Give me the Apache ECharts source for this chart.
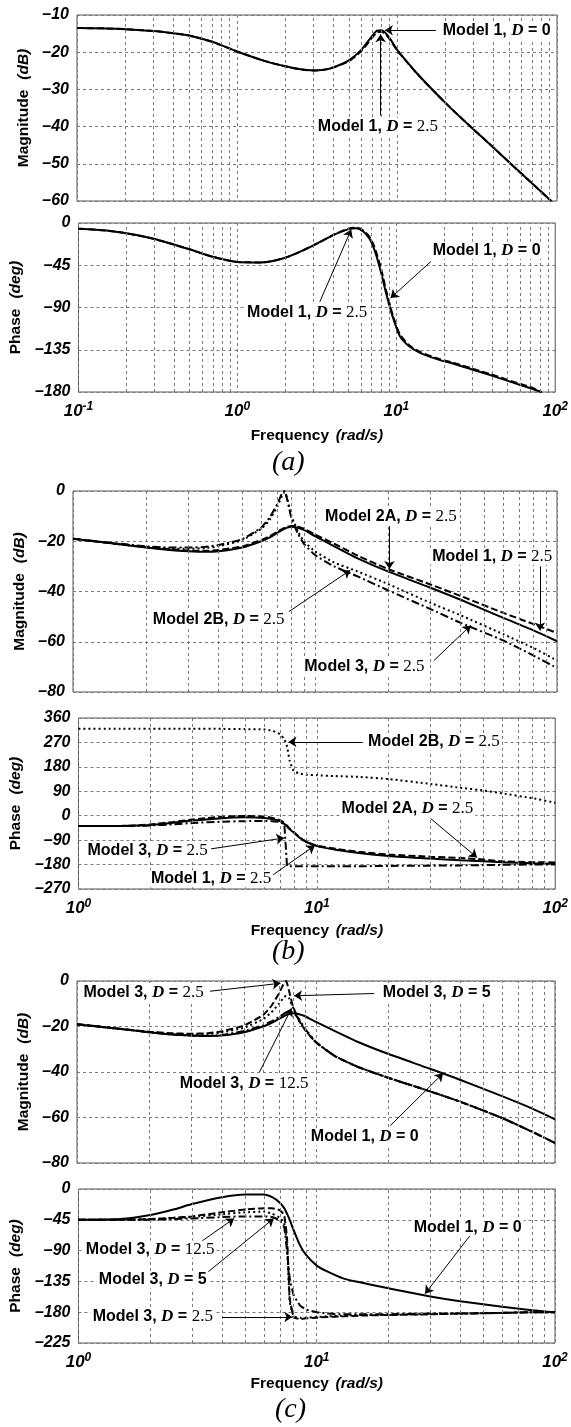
<!DOCTYPE html>
<html><head><meta charset="utf-8">
<script src="https://cdn.jsdelivr.net/npm/echarts@6/dist/echarts.min.js"></script>
<style>html,body{margin:0;padding:0;background:#fff}#c{width:571px;height:1427px}</style>
</head><body><div id="c"></div>
<script>
// ---------------- DATA ----------------
// Panel (a)
const freqA  = [0.1,0.15,0.2,0.3,0.4,0.5,0.7,1,1.5,2,2.5,3,3.5,4,5,6,7,7.5,8,8.5,9,10,11,13,17,22,30,40,52,70,92];
const magA_D0  = [-13.5,-13.6,-13.8,-14.3,-14.9,-15.5,-17.2,-19.8,-22.4,-23.8,-24.6,-24.9,-24.7,-24.1,-22.2,-19.3,-15.6,-14.2,-14.1,-14.9,-16.2,-19.3,-21.5,-25.2,-30.5,-35.3,-40.7,-45.6,-50.2,-55.3,-60];
const magA_D25 = [-13.5,-13.6,-13.8,-14.3,-14.9,-15.5,-17.2,-19.8,-22.4,-23.8,-24.6,-24.9,-24.7,-24.1,-22.4,-19.6,-16.1,-14.7,-14.5,-15.2,-16.5,-19.5,-21.6,-25.2,-30.5,-35.3,-40.7,-45.6,-50.2,-55.3,-60];
const freqAP = [0.1,0.15,0.2,0.3,0.5,0.7,1,1.4,2,3,4,5,5.6,6.2,6.8,7.3,8,8.6,9.5,10.5,12,14,18,23,30,39,52,70,82];
const phaseA_D0  = [-6,-8,-11,-17,-28,-36,-41.5,-42,-37,-24,-13,-6.5,-5.5,-9,-17,-29,-52,-74,-100,-120,-131,-138,-145,-150,-156,-162,-169,-176,-180];
const phaseA_D25 = [-6,-8,-11,-17,-28,-36,-41.5,-42,-37,-24,-13,-6,-5,-8,-15,-26,-48,-71,-98,-118,-130,-137,-144,-149,-155,-161,-168,-175,-180];

// Panel (b)
const freqB = [1,1.5,2,2.5,3,3.5,4,5,6,6.5,7,7.3,7.5,7.7,8,8.5,9,10,12,15,20,30,40,60,80,100];
const magB_M1  = [-19,-21,-22.5,-23.5,-24,-24.2,-24,-22.5,-20,-18.5,-16.6,-15.6,-15,-14.5,-14.2,-14.6,-15.5,-18,-22,-26.8,-32,-38.5,-43.3,-50.5,-55.5,-59.8];
const magB_M2A = [-19,-21,-22.3,-23.2,-23.7,-23.8,-23.5,-22,-19.5,-18,-16.2,-15.2,-14.6,-14.2,-13.9,-14.2,-15,-17.3,-21,-25.7,-31,-37.2,-41.8,-48.5,-53,-56.5];
const magB_M2B = [-19,-21,-22.3,-22.9,-23,-22.7,-22,-19.6,-15,-11.5,-6,-2,-0.5,-3.5,-10,-16,-20,-24,-28.5,-32,-37,-44.5,-49.5,-57,-62.5,-67.5];
const magB_M3  = [-19,-20.8,-22,-22.5,-22.5,-22.3,-21.5,-19.2,-14.5,-10.5,-5,-1,0,-4,-11,-17,-21,-25.5,-30,-34,-39.5,-47,-52.5,-59.5,-65.5,-70.5];
const freqBP = [1,1.5,1.8,2,2.5,3,4,5,6,6.5,7,7.3,7.5,7.7,8,8.5,9,10,12,15,20,30,40,50,60,80,100];
const phaseB_M1  = [-38,-38,-36.5,-34,-26,-18,-9,-6,-8,-12,-20,-30,-40,-50,-62,-82,-96,-112,-125,-137,-148,-158,-164,-168,-171,-175,-177];
const phaseB_M2A = [-38,-37.5,-35.5,-32,-23,-14,-4,-1,-3,-8,-16,-26,-37,-48,-60,-80,-95,-110,-122,-133,-143,-151,-156,-161,-168,-171,-172];
const phaseB_M2B = [320,320,320,320,320,320,320,319,318,313,300,282,255,200,165,155,151,149,146,143,135,117,103,93,82,65,48];
const phaseB_M3  = [-38,-38,-37,-36,-32,-27,-22,-20,-19.5,-20,-23,-32,-185,-186,-186,-186,-186,-186,-186,-186,-185,-184,-183,-182,-181,-180,-180];

// Panel (c)
const freqC = [1,1.5,2,2.5,3,3.5,4,5,6,6.5,7,7.3,7.5,7.7,8,8.5,9,10,12,15,20,30,40,60,80,100];
const magC_M1    = [-19,-21,-22.5,-23.5,-24,-24.2,-24,-22.5,-20,-18.5,-16.6,-15.6,-15,-14.5,-14.2,-14.6,-15.5,-18,-22,-26.8,-32,-38.6,-43.4,-50.6,-56,-60.8];
const magC_M3_25 = [-19,-21,-22.3,-23,-23.2,-23,-22.2,-19.6,-15,-11,-5.5,-1.5,0,-4,-11,-17.5,-21.5,-27,-33,-37.8,-42.5,-48.5,-53,-60.2,-66.2,-71.2];
const magC_M3_5  = [-19,-21,-22.4,-23.2,-23.5,-23.3,-22.7,-20.5,-16.8,-13.8,-10,-7.5,-6.5,-7.5,-11.5,-17.5,-21.5,-27,-33,-37.8,-42.5,-48.5,-53,-60.2,-66.2,-71.2];
const magC_M3_125= [-19,-21,-22.5,-23.5,-24,-24.1,-23.8,-22,-19.5,-17.8,-15.8,-14.6,-13.9,-13.6,-13.8,-16.8,-21,-26.8,-33,-37.8,-42.5,-48.5,-53,-60.2,-66.2,-71.2];
const freqCP = [1,1.5,2,2.5,3,4,5,6,6.5,7,7.3,7.5,7.7,8,8.5,9,10,11,13,15,20,30,40,60,80,100];
const phaseC_M1    = [-45,-44,-38,-30,-22,-12,-8,-8,-12,-20,-28,-36,-45,-60,-82,-96,-112,-120,-131,-136,-145,-157,-164,-172,-177,-180];
const phaseC_M3_25 = [-45,-45,-44,-42,-40,-34,-30,-28,-28,-31,-38,-70,-160,-188,-190,-189,-188,-187,-186,-185,-184,-183,-182,-181,-180,-180];
const phaseC_M3_5  = [-45,-45,-44,-43,-41,-37,-34,-33,-36,-42,-50,-80,-165,-186,-188,-188,-187,-186,-185,-184,-184,-183,-182,-181,-180,-180];
const phaseC_M3_125= [-45,-45,-45,-44,-43,-41,-40,-40,-41,-46,-56,-90,-130,-155,-170,-176,-180,-182,-183,-183,-183,-182,-182,-181,-180,-180];

// Tick values
const minorTicksA  = [0.2,0.3,0.4,0.5,0.6,0.7,0.8,0.9,2,3,4,5,6,7,8,9,20,30,40,50,60,70,80,90];
const minorTicksBC = [2,3,4,5,6,7,8,9,20,30,40,50,60,70,80,90];

// Annotations (text, label centre, arrow tail, arrow tip) in data coordinates
const notesAmag = [
  {t:'Model 1, ', v:'0',   at:[42,-14.1], from:[17.5,-14.1], to:[8.4,-14.1]},
  {t:'Model 1, ', v:'2.5', at:[7.6,-40],  from:[7.9,-37],    to:[7.9,-15.2]}
];
const notesAphase = [
  {t:'Model 1, ', v:'0',   at:[37,-29],  from:[16.5,-41], to:[9.2,-80]},
  {t:'Model 1, ', v:'2.5', at:[2.75,-95],from:[3.3,-84],  to:[5.2,-7]}
];
const notesBmag = [
  {t:'Model 2A, ', v:'2.5', at:[20.6,-10], from:[20.3,-14],  to:[20.3,-31]},
  {t:'Model 1, ',  v:'2.5', at:[54,-26],   from:[85,-30],    to:[85,-55.5]},
  {t:'Model 2B, ', v:'2.5', at:[4.0,-51],  from:[7.8,-48],   to:[14,-31.5]},
  {t:'Model 3, ',  v:'2.5', at:[16,-70],   from:[31,-67.5],  to:[44,-53.5]}
];
const notesBphase = [
  {t:'Model 2B, ', v:'2.5', at:[31,272],    from:[15.5,272], to:[7.6,272]},
  {t:'Model 2A, ', v:'2.5', at:[24,25],     from:[30,-10],   to:[47,-154]},
  {t:'Model 3, ',  v:'2.5', at:[1.95,-130], from:[3.6,-122], to:[7.3,-82]},
  {t:'Model 1, ',  v:'2.5', at:[3.6,-232],  from:[6.5,-220], to:[9.8,-110]}
];
const notesCmag = [
  {t:'Model 3, ', v:'2.5',  at:[1.9,-5],    from:[3.6,-4.5],  to:[7.1,-1]},
  {t:'Model 3, ', v:'5',    at:[32,-5],     from:[17.5,-5.5], to:[8.1,-6.5]},
  {t:'Model 3, ', v:'12.5', at:[5.0,-45],   from:[5.8,-40],   to:[7.9,-12]},
  {t:'Model 1, ', v:'0',    at:[16,-68.5],  from:[20.5,-63.5],to:[34,-40.6]}
];
const notesCphase = [
  {t:'Model 1, ', v:'0',    at:[43,-56],   from:[44,-68],   to:[28.5,-153]},
  {t:'Model 3, ', v:'12.5', at:[2.0,-88],  from:[3.3,-76],  to:[4.5,-43]},
  {t:'Model 3, ', v:'5',    at:[2.05,-133],from:[3.5,-121], to:[6.6,-43]},
  {t:'Model 3, ', v:'2.5',  at:[2.05,-187],from:[4.0,-187], to:[7.9,-187]}
];

// ---------------- CHART ----------------
const SANS = 'Liberation Sans', SERIF = 'Liberation Serif';
const DASH = {solid:'solid', dashed:[7,3], dotted:[2,3], dashdot:[8,3,2,3]};

const grids = [
  {left:77, right:14, top:15,   height:186},
  {left:77, right:14, top:223,  height:169},
  {left:73, right:14, top:491,  height:201},
  {left:73, right:14, top:718,  height:171},
  {left:77, right:16, top:981,  height:182},
  {left:77, right:16, top:1189, height:154}
];
const yDefs = [
  {min:-60, max:-10, interval:10, name:'Magnitude', unit:'(dB)'},
  {min:-180,max:0,   interval:45, name:'Phase', unit:'(deg)'},
  {min:-80, max:0,   interval:20, name:'Magnitude', unit:'(dB)'},
  {min:-270,max:360, interval:90, name:'Phase', unit:'(deg)'},
  {min:-80, max:0,   interval:20, name:'Magnitude', unit:'(dB)'},
  {min:-225,max:0,   interval:45, name:'Phase', unit:'(deg)'}
];
const xMin = [0.1,0.1,1,1,1,1];

const richNote = {
  m:{fontFamily:SANS, fontWeight:'bold', fontSize:16, color:'#000'},
  d:{fontFamily:SERIF, fontStyle:'italic', fontWeight:'bold', fontSize:17, color:'#000'},
  e:{fontFamily:SANS, fontWeight:'bold', fontSize:16, color:'#000'},
  vs:{fontFamily:SERIF, fontSize:17, color:'#000'},
  vb:{fontFamily:SANS, fontWeight:'bold', fontSize:16, color:'#000'}
};
function noteText(n){
  const vk = n.v.indexOf('.')>=0 ? 'vs' : 'vb';
  return '{m|'+n.t+'}{d|D}{e| = }{'+vk+'|'+n.v+'}';
}
function gridDash(minor){
  return {silent:true, symbol:'none', label:{show:false}, animation:false,
    lineStyle:{color:'#7a7a7a', type:[3,3], width:1}, emphasis:{disabled:true},
    data: minor.map(v=>({xAxis:v}))};
}
function arrowMarks(notes){
  return {silent:true, symbol:['none','arrow'], symbolSize:8, label:{show:false}, animation:false,
    lineStyle:{color:'#000', type:'solid', width:1}, emphasis:{disabled:true},
    data: notes.map(n=>[{coord:n.from},{coord:n.to}])};
}
function labelMarks(notes){
  return {silent:true, symbol:'rect', symbolSize:1, itemStyle:{color:'rgba(0,0,0,0)'}, animation:false,
    label:{show:true, position:'inside', formatter:p=>noteText(notes[p.dataIndex]), rich:richNote,
      backgroundColor:'#fff', padding:[0,2]},
    data: notes.map(n=>({coord:n.at}))};
}
function line(gi, xs, ys, dash, sm){
  return {type:'line', xAxisIndex:gi, yAxisIndex:gi, data:xs.map((x,i)=>[x,ys[i]]),
    showSymbol:false, symbol:'none', smooth:(sm===undefined?0.25:sm), clip:true, silent:true,
    animation:false, lineStyle:{color:'#000', width:2, type:DASH[dash]}, z:3};
}

const series = [];
function panel(gi, lines, minor, notes){
  lines.forEach((l,k)=>{
    const s = line(gi, l[0], l[1], l[2], l[3]);
    if(k===0) s.markLine = gridDash(minor);
    if(k===1){ s.markLine = arrowMarks(notes); s.markPoint = labelMarks(notes); }
    series.push(s);
  });
}
panel(0, [[freqA,magA_D0,'solid'],[freqA,magA_D25,'dashed']], minorTicksA, notesAmag);
panel(1, [[freqAP,phaseA_D0,'solid'],[freqAP,phaseA_D25,'dashed']], minorTicksA, notesAphase);
panel(2, [[freqB,magB_M1,'solid'],[freqB,magB_M2A,'dashed'],[freqB,magB_M2B,'dotted',0.15],[freqB,magB_M3,'dashdot',0.15]], minorTicksBC, notesBmag);
panel(3, [[freqBP,phaseB_M1,'solid'],[freqBP,phaseB_M2A,'dashed'],[freqBP,phaseB_M2B,'dotted',0.15],[freqBP,phaseB_M3,'dashdot',0.05]], minorTicksBC, notesBphase);
panel(4, [[freqC,magC_M1,'solid'],[freqC,magC_M3_25,'dashed',0.15],[freqC,magC_M3_5,'dotted',0.15],[freqC,magC_M3_125,'dashdot',0.15]], minorTicksBC, notesCmag);
panel(5, [[freqCP,phaseC_M1,'solid'],[freqCP,phaseC_M3_25,'dashed',0.08],[freqCP,phaseC_M3_5,'dotted',0.08],[freqCP,phaseC_M3_125,'dashdot',0.12]], minorTicksBC, notesCphase);

const splitDash = {show:true, lineStyle:{color:'#7a7a7a', type:[3,3], width:1}};
const nameRich = {n:{fontFamily:SANS, fontWeight:'bold', fontSize:15.5, color:'#000'},
                  u:{fontFamily:SANS, fontWeight:'bold', fontStyle:'italic', fontSize:15.5, color:'#000'}};
const nameGapX = [0,36,0,34,0,33];
const xAxes = grids.map((g,i)=>({
  type:'log', logBase:10, gridIndex:i, min:xMin[i], max:100,
  axisLine:{show:false}, axisTick:{show:false}, splitLine:splitDash,
  axisLabel:{show: i%2===1, margin:9, color:'#000',
    formatter:v=>'{b|10}{s|'+Math.round(Math.log10(v))+'}',
    rich:{b:{fontFamily:SANS, fontWeight:'bold', fontStyle:'italic', fontSize:17, color:'#000', lineHeight:20},
          s:{fontFamily:SANS, fontWeight:'bold', fontStyle:'italic', fontSize:12, color:'#000', verticalAlign:'top', lineHeight:11}}},
  name: i%2===1 ? '{n|Frequency}  {u|(rad/s)}' : '',
  nameLocation:'middle', nameGap:nameGapX[i], nameTextStyle:{rich:nameRich}
}));
const yAxes = yDefs.map((d,i)=>({
  type:'value', gridIndex:i, min:d.min, max:d.max, interval:d.interval,
  axisLine:{show:false}, axisTick:{show:false}, splitLine:splitDash,
  axisLabel:{margin:8, color:'#000', fontFamily:SANS, fontWeight:'bold', fontStyle:'italic', fontSize:16,
    formatter:v=> v<0 ? '\u2013'+Math.abs(v) : String(v)},
  name:'{n|'+d.name+'}   {u|'+d.unit+'}', nameLocation:'middle', nameGap:41, nameRotate:90,
  nameTextStyle:{rich:nameRich}
}));

const chart = echarts.init(document.getElementById('c'), null, {renderer:'canvas'});
chart.setOption({
  backgroundColor:'#fff',
  animation:false,
  grid: grids.map(g=>Object.assign({show:true, borderColor:'#555', borderWidth:1, backgroundColor:'#fff', containLabel:false}, g)),
  xAxis:xAxes, yAxis:yAxes, series:series,
  graphic:[
    {type:'text', left:272, top:449, style:{text:'(a)', font:'italic 28px "Liberation Serif"', fill:'#000'}},
    {type:'text', left:272, top:938, style:{text:'(b)', font:'italic 28px "Liberation Serif"', fill:'#000'}},
    {type:'text', left:275, top:1396, style:{text:'(c)', font:'italic 28px "Liberation Serif"', fill:'#000'}}
  ]
});
</script></body></html>
